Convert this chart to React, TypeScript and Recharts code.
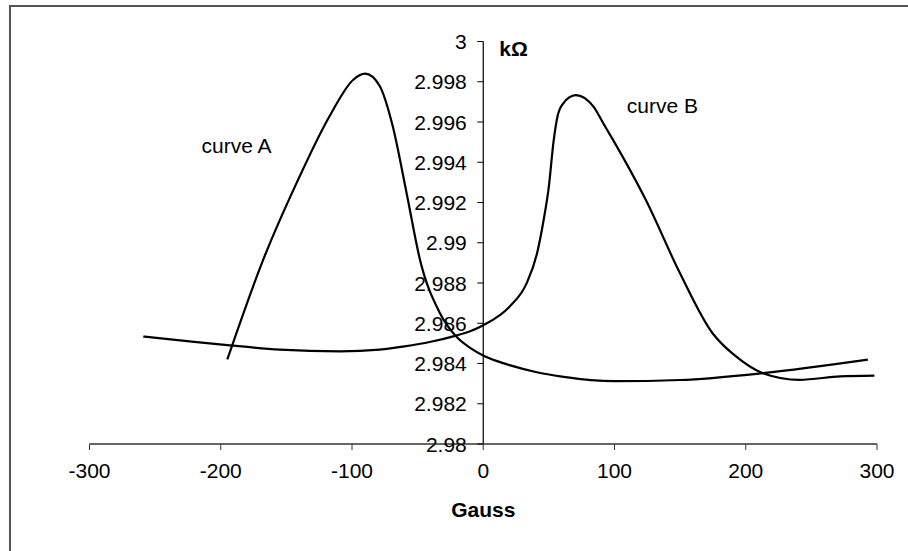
import { LineChart, Line, XAxis, YAxis, ReferenceLine, ReferenceDot, Label } from "recharts"

const curveAGauss = [-195, -168, -142, -117, -99, -90, -79, -69, -58.5, -48, -33, -20, -10, 0, 10, 20, 40, 60, 100, 150, 213, 293]
const curveAKohm = [2.9842, 2.9891, 2.993, 2.9963, 2.9981, 2.9984, 2.9978, 2.9958, 2.9925, 2.9891, 2.9865, 2.9853, 2.98478, 2.9844, 2.98413, 2.98392, 2.98358, 2.98335, 2.98312, 2.98318, 2.98352, 2.98419]

const curveBGauss = [-259, -231, -193, -155, -109, -79, -60, -40, -20, -10, 0, 20, 33, 41, 46, 50, 53.5, 57, 61, 65.5, 70.5, 84, 91.5, 99, 124, 150, 175, 183, 190, 213, 241, 272, 298]
const curveBKohm = [2.98534, 2.98515, 2.9849, 2.98469, 2.9846, 2.98469, 2.98485, 2.98508, 2.9854, 2.9856, 2.9859, 2.98682, 2.98798, 2.98948, 2.99113, 2.9928, 2.995, 2.9964, 2.99693, 2.99722, 2.99734, 2.99676, 2.99593, 2.9951, 2.99211, 2.98847, 2.98548, 2.9849, 2.98449, 2.98352, 2.98319, 2.98336, 2.9834]

const gaussTicks = [-300, -200, -100, 0, 100, 200, 300]
const kohmTicks = [2.98, 2.982, 2.984, 2.986, 2.988, 2.99, 2.992, 2.994, 2.996, 2.998, 3]

const curveLabels = [
  { name: "curve A", x: -188, y: 2.99482 },
  { name: "curve B", x: 136.5, y: 2.9968 },
]

const curveA = curveAGauss.map((x, i) => ({ x, y: curveAKohm[i] }))
const curveB = curveBGauss.map((x, i) => ({ x, y: curveBKohm[i] }))

const W = 908
const H = 551
const margin = { top: 41.5, right: 31, bottom: 34, left: 88.5 }
const ZERO_X = margin.left + 1 + (W - margin.left - 1 - margin.right) / 2
const FONT = "'Liberation Sans', Arial, sans-serif"
const FS = 21

const YTick = (props: any) => {
  const { y, payload } = props
  return (
    <g>
      <line x1={ZERO_X - 6} x2={ZERO_X} y1={y} y2={y} stroke="#000" strokeWidth={1} />
      <text x={ZERO_X - 16.5} y={y} dy="0.36em" textAnchor="end" fontSize={FS} fill="#000" fontFamily={FONT}>
        {String(Number(payload.value.toFixed(3)))}
      </text>
    </g>
  )
}

const App = () => {
  return (
    <div style={{ position: "absolute", left: 0, top: 0, width: W, height: H, background: "#fff" }}>
      <div style={{ position: "absolute", left: 9, top: 5, right: 0, height: 2, background: "#555" }} />
      <div style={{ position: "absolute", left: 9, top: 5, bottom: 0, width: 2, background: "#555" }} />
      <LineChart width={W} height={H} margin={margin}>
        <XAxis
          type="number"
          dataKey="x"
          domain={[-300, 300]}
          ticks={gaussTicks}
          interval={0}
          height={73}
          tickSize={6}
          tickMargin={13}
          axisLine={{ stroke: "#333", strokeWidth: 1.5 }}
          tickLine={{ stroke: "#333" }}
          tick={{ fill: "#000", fontSize: FS, fontFamily: FONT }}
        >
          <Label value="Gauss" position="insideBottom" offset={0} fill="#000" fontSize={FS} fontWeight="bold" fontFamily={FONT} />
        </XAxis>
        <YAxis
          type="number"
          dataKey="y"
          domain={[2.98, 3]}
          ticks={kohmTicks}
          interval={0}
          width={1}
          axisLine={false}
          tickLine={false}
          tick={(p: any) => <YTick {...p} />}
        />
        <ReferenceLine
          x={0}
          stroke="#000"
          strokeWidth={1.2}
          label={{
            content: (p: any) => (
              <text x={p.viewBox.x + 16} y={p.viewBox.y + 14} fontSize={FS} fontWeight="bold" fontFamily={FONT} fill="#000">
                kΩ
              </text>
            ),
          }}
        />
        {curveLabels.map((c) => (
          <ReferenceDot key={c.name} x={c.x} y={c.y} r={0} stroke="none" fill="none">
            <Label value={c.name} position="center" fill="#000" fontSize={FS} fontFamily={FONT} />
          </ReferenceDot>
        ))}
        <Line data={curveA} dataKey="y" type="monotone" stroke="#000" strokeWidth={2.2} dot={false} isAnimationActive={false} />
        <Line data={curveB} dataKey="y" type="monotone" stroke="#000" strokeWidth={2.2} dot={false} isAnimationActive={false} />
      </LineChart>
    </div>
  )
}

export default App
